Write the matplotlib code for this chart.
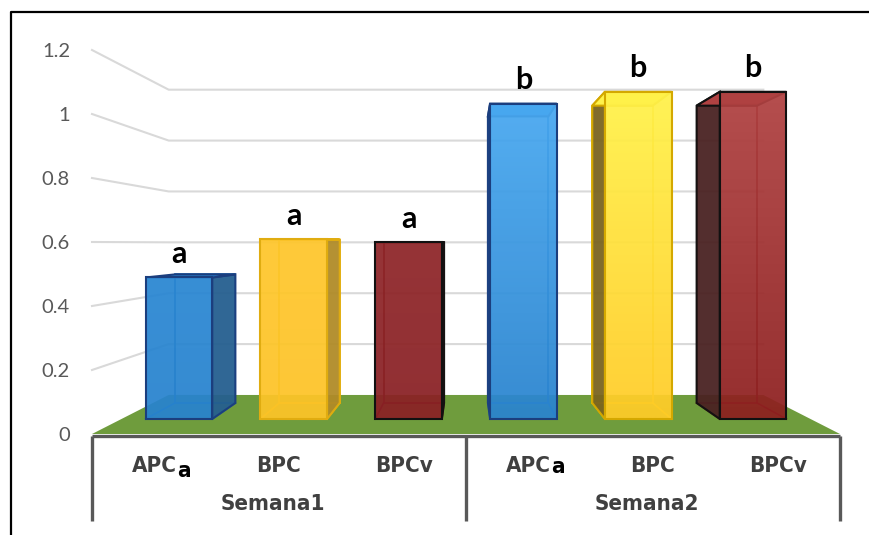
import matplotlib
matplotlib.use("Agg")
import matplotlib.pyplot as plt
import numpy as np
from matplotlib.patches import Polygon
from matplotlib.lines import Line2D
from matplotlib.colors import to_rgb
from matplotlib import font_manager as fm

# data
groups = ["Semana1", "Semana2"]
treatments = ["APC", "BPC", "BPCv"]
subscripts = ["a", "", ""]
values = [[0.48, 0.61, 0.60],
          [1.07, 1.11, 1.11]]
letters = [["a", "a", "a"],
           ["b", "b", "b"]]
yticks = [0, 0.2, 0.4, 0.6, 0.8, 1.0, 1.2]
ytick_labels = ["0", "0.2", "0.4", "0.6", "0.8", "1", "1.2"]

# colours, one per bar (series order repeats each week)
front_top = ["#2A87D3", "#FFC72C", "#8F2629", "#48A8F0", "#FFF24A", "#B04242"]
front_bot = ["#2883CE", "#FDC428", "#8A2125", "#2A84CF", "#FFCC28", "#8E2020"]
side_col = ["#255F8F", "#B08B28", "#5A1A1A", "#2A70B0", "#7A6420", "#4A2222"]
edge_col = ["#1B3E7E", "#E0AC10", "#111111", "#1B3E7E", "#D4A800", "#111111"]
inner_col = ["#1565B0", "#E5B000", "#6A0C0C", "#1A6AB8", "#F0C000", "#7A1010"]

# fake 3D perspective: f is the shrink factor with depth (1 = front)
n_cat = len(groups) * len(treatments)
CX = n_cat / 2.0       # horizontal vanishing point
VY = 0.595             # vertical vanishing point (value units)
F_WALL = 0.795
F_FRONT = 0.921
F_BACK = 0.837
HALF_W = 0.29


def proj(x, v, f):
    return (CX + (x - CX) * f, VY + (v - VY) * f)


def grad_fill(ax, pts, c_top, c_bot, alpha, z):
    poly = Polygon(pts, closed=True, facecolor="none", edgecolor="none")
    ax.add_patch(poly)
    xs = [p[0] for p in pts]
    ys = [p[1] for p in pts]
    t = np.linspace(0, 1, 64)[:, None]
    img = (np.array(to_rgb(c_top)) * (1 - t) + np.array(to_rgb(c_bot)) * t)[:, None, :]
    im = ax.imshow(img, extent=(min(xs), max(xs), min(ys), max(ys)), origin="upper",
                   aspect="auto", alpha=alpha, zorder=z, interpolation="bilinear")
    im.set_clip_path(poly)


# narrow bold font for the category axis, if one is around
lab_props = dict(family="Liberation Sans", fontsize=14)
try:
    p = fm.findfont(fm.FontProperties(family="DejaVu Sans", weight="bold", stretch="condensed"),
                    fallback_to_default=False)
    if "Condensed" in p:
        lab_props = dict(family="DejaVu Sans", stretch="condensed", fontsize=16)
except Exception:
    pass

fig = plt.figure(figsize=(8.69, 5.35), dpi=100)
ax = fig.add_axes([0, 0, 1, 1])
ax.axis("off")

# floor
floor = [proj(0, 0, 1), proj(n_cat, 0, 1), proj(n_cat, 0, F_WALL), proj(0, 0, F_WALL)]
ax.add_patch(Polygon(floor, closed=True, facecolor="#6F9C3D", edgecolor="none", zorder=1.5))

# gridlines on side wall and back wall
for t in yticks[1:]:
    pts = [proj(0, t, 1), proj(0, t, F_WALL), proj(n_cat, t, F_WALL)]
    ax.plot([p[0] for p in pts], [p[1] for p in pts], color="#D9D9D9", lw=1.5, zorder=2)

# y tick labels on the front plane
for t, lab in zip(yticks, ytick_labels):
    ax.annotate(lab, xy=(-0.176, t), xytext=(0, -5.2), textcoords="offset points",
                ha="right", va="baseline", fontsize=14.5, color="#595959", family="Lato")

# bars
for g in range(len(groups)):
    for k in range(len(treatments)):
        i = g * len(treatments) + k
        v = values[g][k]
        xc = i + 0.5
        xl, xr = xc - HALF_W, xc + HALF_W

        back = [proj(xl, 0, F_BACK), proj(xr, 0, F_BACK), proj(xr, v, F_BACK), proj(xl, v, F_BACK)]
        ax.add_patch(Polygon(back, closed=True, fill=False, edgecolor=inner_col[i], lw=1.2, zorder=3))
        hx = xl if xc < CX else xr
        a, b = proj(hx, 0, F_FRONT), proj(hx, 0, F_BACK)
        ax.plot([a[0], b[0]], [a[1], b[1]], color=inner_col[i], lw=1.2, zorder=3)
        sx = xr if xc < CX else xl
        a, b = proj(sx, 0, F_FRONT), proj(sx, 0, F_BACK)
        ax.plot([a[0], b[0]], [a[1], b[1]], color=inner_col[i], lw=1.2, zorder=3)

        side = [proj(sx, 0, F_FRONT), proj(sx, 0, F_BACK), proj(sx, v, F_BACK), proj(sx, v, F_FRONT)]
        ax.add_patch(Polygon(side, closed=True, facecolor=side_col[i], edgecolor=edge_col[i],
                             lw=1.5, alpha=0.95, zorder=4))

        top = [proj(xl, v, F_FRONT), proj(xr, v, F_FRONT), proj(xr, v, F_BACK), proj(xl, v, F_BACK)]
        ax.add_patch(Polygon(top, closed=True, facecolor=front_top[i], edgecolor=edge_col[i],
                             lw=1.5, zorder=4.5))

        front = [proj(xl, 0, F_FRONT), proj(xr, 0, F_FRONT), proj(xr, v, F_FRONT), proj(xl, v, F_FRONT)]
        grad_fill(ax, front, front_top[i], front_bot[i], 0.94, 5)
        ax.add_patch(Polygon(front, closed=True, fill=False, edgecolor=edge_col[i], lw=1.5, zorder=6))

        ax.annotate(letters[g][k], xy=proj(xc, v, F_FRONT), xytext=(0, 10.5),
                    textcoords="offset points", ha="center", va="baseline",
                    fontsize=22, fontweight="bold", family="Lato", color="black", zorder=7)

# category axis
ax.plot([0, n_cat], [-0.006, -0.006], color="#595959", lw=2.4, solid_capstyle="butt", zorder=3)
for xb in range(0, n_cat + 1, len(treatments)):
    ax.plot([xb, xb], [-0.006, -0.272], color="#595959", lw=2.4, solid_capstyle="butt", zorder=3)

sub_drop = [3.5, 1.0]
for g, grp in enumerate(groups):
    for k, tr in enumerate(treatments):
        i = g * len(treatments) + k
        t = ax.text(i + 0.5, -0.118, tr, ha="center", va="baseline",
                    fontweight="bold", color="#404040", **lab_props)
        if subscripts[k]:
            ax.annotate(subscripts[k], xy=(1, 0), xycoords=t, xytext=(0.3, -sub_drop[g]),
                        textcoords="offset points", ha="left", va="bottom",
                        fontweight="bold", color="black", **lab_props)
    ax.text(g * len(treatments) + 1.45, -0.2375, grp, ha="center", va="baseline",
            fontweight="bold", color="#404040", **lab_props)

# chart border (cut by the image edge on the right and bottom)
fig.add_artist(Line2D([11 / 869, 11 / 869, 1.0], [0, 1 - 12 / 535, 1 - 12 / 535],
                      color="black", lw=1.6, transform=fig.transFigure))

px_x = 748 / n_cat
ax.set_xlim(-92 / px_x, (869 - 92) / px_x)
ax.set_ylim(-(535 - 434) / 320, 434 / 320)

fig.savefig("out.png", dpi=100)
